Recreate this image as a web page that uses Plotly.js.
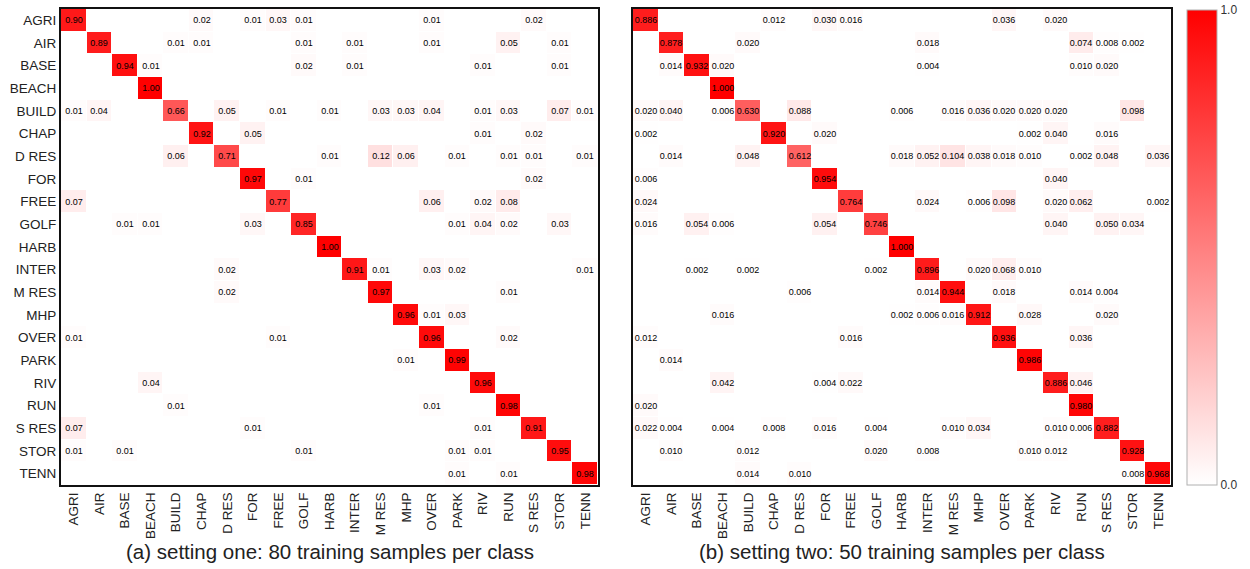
<!DOCTYPE html>
<html>
<head>
<meta charset="utf-8">
<script src="https://cdn.plot.ly/plotly-3.0.1.min.js"></script>
<style>html,body{margin:0;padding:0;background:#fff;}#chart{width:1250px;height:569px;}</style>
</head>
<body>
<div id="chart"></div>
<script>
const categories = ['AGRI','AIR','BASE','BEACH','BUILD','CHAP','D RES','FOR','FREE','GOLF','HARB','INTER','M RES','MHP','OVER','PARK','RIV','RUN','S RES','STOR','TENN'];

// (a) setting one: 80 training samples per class (rows = true class, cols = predicted)
const matrixA = [
  [.90,0,0,0,0,.02,0,.01,.03,.01,0,0,0,0,.01,0,0,0,.02,0,0],
  [0,.89,0,0,.01,.01,0,0,0,.01,0,.01,0,0,.01,0,0,.05,0,.01,0],
  [0,0,.94,.01,0,0,0,0,0,.02,0,.01,0,0,0,0,.01,0,0,.01,0],
  [0,0,0,1.00,0,0,0,0,0,0,0,0,0,0,0,0,0,0,0,0,0],
  [.01,.04,0,0,.66,0,.05,0,.01,0,.01,0,.03,.03,.04,0,.01,.03,0,.07,.01],
  [0,0,0,0,0,.92,0,.05,0,0,0,0,0,0,0,0,.01,0,.02,0,0],
  [0,0,0,0,.06,0,.71,0,0,0,.01,0,.12,.06,0,.01,0,.01,.01,0,.01],
  [0,0,0,0,0,0,0,.97,0,.01,0,0,0,0,0,0,0,0,.02,0,0],
  [.07,0,0,0,0,0,0,0,.77,0,0,0,0,0,.06,0,.02,.08,0,0,0],
  [0,0,.01,.01,0,0,0,.03,0,.85,0,0,0,0,0,.01,.04,.02,0,.03,0],
  [0,0,0,0,0,0,0,0,0,0,1.00,0,0,0,0,0,0,0,0,0,0],
  [0,0,0,0,0,0,.02,0,0,0,0,.91,.01,0,.03,.02,0,0,0,0,.01],
  [0,0,0,0,0,0,.02,0,0,0,0,0,.97,0,0,0,0,.01,0,0,0],
  [0,0,0,0,0,0,0,0,0,0,0,0,0,.96,.01,.03,0,0,0,0,0],
  [.01,0,0,0,0,0,0,0,.01,0,0,0,0,0,.96,0,0,.02,0,0,0],
  [0,0,0,0,0,0,0,0,0,0,0,0,0,.01,0,.99,0,0,0,0,0],
  [0,0,0,.04,0,0,0,0,0,0,0,0,0,0,0,0,.96,0,0,0,0],
  [0,0,0,0,.01,0,0,0,0,0,0,0,0,0,.01,0,0,.98,0,0,0],
  [.07,0,0,0,0,0,0,.01,0,0,0,0,0,0,0,0,.01,0,.91,0,0],
  [.01,0,.01,0,0,0,0,0,0,.01,0,0,0,0,0,.01,.01,0,0,.95,0],
  [0,0,0,0,0,0,0,0,0,0,0,0,0,0,0,.01,0,.01,0,0,.98]
];

// (b) setting two: 50 training samples per class
const matrixB = [
  [.886,0,0,0,0,.012,0,.030,.016,0,0,0,0,0,.036,0,.020,0,0,0,0],
  [0,.878,0,0,.020,0,0,0,0,0,0,.018,0,0,0,0,0,.074,.008,.002,0],
  [0,.014,.932,.020,0,0,0,0,0,0,0,.004,0,0,0,0,0,.010,.020,0,0],
  [0,0,0,1.000,0,0,0,0,0,0,0,0,0,0,0,0,0,0,0,0,0],
  [.020,.040,0,.006,.630,0,.088,0,0,0,.006,0,.016,.036,.020,.020,.020,0,0,.098,0],
  [.002,0,0,0,0,.920,0,.020,0,0,0,0,0,0,0,.002,.040,0,.016,0,0],
  [0,.014,0,0,.048,0,.612,0,0,0,.018,.052,.104,.038,.018,.010,0,.002,.048,0,.036],
  [.006,0,0,0,0,0,0,.954,0,0,0,0,0,0,0,0,.040,0,0,0,0],
  [.024,0,0,0,0,0,0,0,.764,0,0,.024,0,.006,.098,0,.020,.062,0,0,.002],
  [.016,0,.054,.006,0,0,0,.054,0,.746,0,0,0,0,0,0,.040,0,.050,.034,0],
  [0,0,0,0,0,0,0,0,0,0,1.000,0,0,0,0,0,0,0,0,0,0],
  [0,0,.002,0,.002,0,0,0,0,.002,0,.896,0,.020,.068,.010,0,0,0,0,0],
  [0,0,0,0,0,0,.006,0,0,0,0,.014,.944,0,.018,0,0,.014,.004,0,0],
  [0,0,0,.016,0,0,0,0,0,0,.002,.006,.016,.912,0,.028,0,0,.020,0,0],
  [.012,0,0,0,0,0,0,0,.016,0,0,0,0,0,.936,0,0,.036,0,0,0],
  [0,.014,0,0,0,0,0,0,0,0,0,0,0,0,0,.986,0,0,0,0,0],
  [0,0,0,.042,0,0,0,.004,.022,0,0,0,0,0,0,0,.886,.046,0,0,0],
  [.020,0,0,0,0,0,0,0,0,0,0,0,0,0,0,0,0,.980,0,0,0],
  [.022,.004,0,.004,0,.008,0,.016,0,.004,0,0,.010,.034,0,0,.010,.006,.882,0,0],
  [0,.010,0,0,.012,0,0,0,0,.020,0,.008,0,0,0,.010,.012,0,0,.928,0],
  [0,0,0,0,.014,0,.010,0,0,0,0,0,0,0,0,0,0,0,0,.008,.968]
];

const colorbarTicks = [0, 1];
const colorbarLabels = ['0.0', '1.0'];
const titleA = '(a) setting one: 80 training samples per class';
const titleB = '(b) setting two: 50 training samples per class';

const textA = matrixA.map(r => r.map(v => v > 0 ? v.toFixed(2) : ''));
const textB = matrixB.map(r => r.map(v => v > 0 ? v.toFixed(3) : ''));

const FONT = 'Arial, "Liberation Sans", sans-serif';
const scale = [[0, 'rgb(255,255,255)'], [1, 'rgb(255,0,0)']];

const common = {
  type: 'heatmap',
  x: categories, y: categories,
  colorscale: scale, zmin: 0, zmax: 1,
  xgap: 1, ygap: 1,
  texttemplate: '%{text}',
  textfont: {family: FONT, size: 9, color: 'black'},
  hoverinfo: 'skip'
};

const traceA = Object.assign({}, common, {z: matrixA, text: textA, xaxis: 'x', yaxis: 'y', showscale: false});
const traceB = Object.assign({}, common, {z: matrixB, text: textB, xaxis: 'x2', yaxis: 'y2', showscale: true,
  colorbar: {
    x: 1187/1250, xanchor: 'left', xpad: 0, ypad: 0,
    y: 1 - 10/569, yanchor: 'top', len: 475/569, lenmode: 'fraction',
    thickness: 30, outlinewidth: 1, outlinecolor: '#b0b0b0',
    tickvals: colorbarTicks, ticktext: colorbarLabels, ticks: '',
    tickfont: {family: FONT, size: 12, color: '#333'}
  }
});

const yDom = [(569-485)/569, (569-9)/569];
const xAxisBase = {
  type: 'category', tickangle: -90, showgrid: false, zeroline: false,
  showline: true, mirror: true, linewidth: 2, linecolor: '#111', ticks: '',
  tickfont: {family: FONT, size: 13.5, color: '#222'}
};
const yAxisBase = {
  type: 'category', autorange: 'reversed', showgrid: false, zeroline: false,
  showline: true, mirror: true, linewidth: 2, linecolor: '#111', ticks: '',
  tickfont: {family: FONT, size: 13.5, color: '#222'}
};

const layout = {
  width: 1250, height: 569,
  margin: {l: 0, r: 0, t: 0, b: 0},
  paper_bgcolor: '#fff', plot_bgcolor: '#fff',
  showlegend: false,
  xaxis: Object.assign({}, xAxisBase, {domain: [61/1250, 598/1250], anchor: 'y'}),
  yaxis: Object.assign({}, yAxisBase, {domain: yDom, anchor: 'x'}),
  xaxis2: Object.assign({}, xAxisBase, {domain: [633/1250, 1171/1250], anchor: 'y2'}),
  yaxis2: Object.assign({}, yAxisBase, {domain: yDom, anchor: 'x2', showticklabels: false}),
  annotations: [
    {text: titleA, xref: 'paper', yref: 'paper', x: 330/1250, y: (569-551)/569, xanchor: 'center', yanchor: 'middle',
     showarrow: false, font: {family: FONT, size: 20.5, color: '#222'}},
    {text: titleB, xref: 'paper', yref: 'paper', x: 902/1250, y: (569-551)/569, xanchor: 'center', yanchor: 'middle',
     showarrow: false, font: {family: FONT, size: 20.5, color: '#222'}}
  ]
};

Plotly.newPlot('chart', [traceA, traceB], layout, {displayModeBar: false, staticPlot: true});
</script>
</body>
</html>
